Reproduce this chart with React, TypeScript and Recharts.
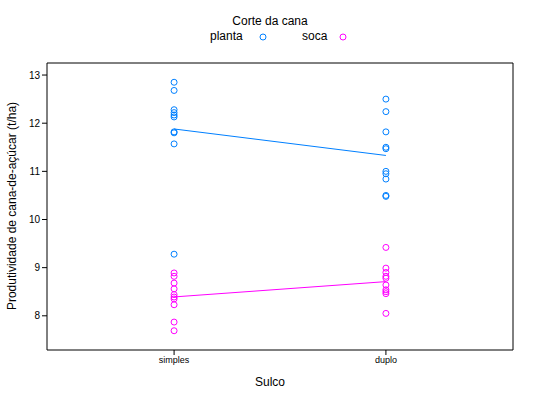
import { ComposedChart, Scatter, Line, XAxis, YAxis } from 'recharts';

const categories = ['simples', 'duplo'];
const plantaSimples = [12.85, 12.68, 12.28, 12.22, 12.17, 12.13, 11.82, 11.8, 11.57, 9.28];
const plantaDuplo = [12.5, 12.24, 11.82, 11.5, 11.47, 11.0, 10.95, 10.84, 10.5, 10.48];
const socaSimples = [8.89, 8.82, 8.68, 8.56, 8.44, 8.39, 8.35, 8.23, 7.87, 7.69];
const socaDuplo = [9.42, 8.99, 8.9, 8.82, 8.78, 8.64, 8.54, 8.5, 8.46, 8.05];
const yTicks = [8, 9, 10, 11, 12, 13];

const BLUE = '#0080ff';
const MAGENTA = '#ff00ff';
const FONT = '"Liberation Sans", Arial, sans-serif';

const mean = (a: number[]) => a.reduce((s, v) => s + v, 0) / a.length;
const toPoints = (groups: number[][]) =>
  groups.flatMap((g, i) => g.map((y) => ({ x: i + 1, y })));

const plantaPts = toPoints([plantaSimples, plantaDuplo]);
const socaPts = toPoints([socaSimples, socaDuplo]);
const plantaMean = [plantaSimples, plantaDuplo].map((g, i) => ({ x: i + 1, y: mean(g) }));
const socaMean = [socaSimples, socaDuplo].map((g, i) => ({ x: i + 1, y: mean(g) }));

const ring = (color: string) => (p: any) => (
  <circle cx={p.cx} cy={p.cy} r={3} fill="none" stroke={color} strokeWidth={1} />
);

const axisProps = { stroke: '#000', tickLine: { stroke: '#000' }, tickSize: 5 };

export default function App() {
  return (
    <div style={{ position: 'fixed', left: 0, top: 0, width: 540, height: 400, background: '#fff', fontFamily: FONT }}>
      <ComposedChart
        width={540}
        height={400}
        margin={{ top: 53, right: 17, bottom: 30, left: 7 }}
        style={{ position: 'absolute', left: 0, top: 0 }}
      >
        <XAxis
          xAxisId="b" dataKey="x" type="number" domain={[0.4, 2.6]} ticks={[1, 2]}
          tickFormatter={(v) => categories[v - 1]} height={20} {...axisProps}
          tick={{ fontSize: 9, fill: '#000', fontFamily: FONT }}
        />
        <XAxis
          xAxisId="t" orientation="top" dataKey="x" type="number" domain={[0.4, 2.6]} ticks={[1, 2]}
          tick={false} height={10} {...axisProps}
        />
        <YAxis
          yAxisId="l" type="number" domain={[7.29, 13.25]} ticks={yTicks} width={40}
          {...axisProps} tick={{ fontSize: 10, fill: '#000', fontFamily: FONT }}
        />
        <YAxis
          yAxisId="r" orientation="right" type="number" domain={[7.29, 13.25]} ticks={yTicks}
          width={10} tick={false} {...axisProps}
        />
        <Scatter xAxisId="b" yAxisId="l" data={plantaPts} dataKey="y" shape={ring(BLUE)} isAnimationActive={false} />
        <Scatter xAxisId="b" yAxisId="l" data={socaPts} dataKey="y" shape={ring(MAGENTA)} isAnimationActive={false} />
        <Line xAxisId="b" yAxisId="l" data={plantaMean} dataKey="y" stroke={BLUE} dot={false} strokeWidth={1} isAnimationActive={false} />
        <Line xAxisId="b" yAxisId="l" data={socaMean} dataKey="y" stroke={MAGENTA} dot={false} strokeWidth={1} isAnimationActive={false} />
      </ComposedChart>
      <div style={{ position: 'absolute', top: 14, left: 0, width: 540, textAlign: 'center', fontSize: 12 }}>
        Corte da cana
      </div>
      <div style={{ position: 'absolute', top: 29, left: 210, fontSize: 12 }}>planta</div>
      <svg style={{ position: 'absolute', left: 258, top: 32 }} width={10} height={10}>
        <circle cx={5} cy={5} r={3} fill="none" stroke={BLUE} />
      </svg>
      <div style={{ position: 'absolute', top: 29, left: 302, fontSize: 12 }}>soca</div>
      <svg style={{ position: 'absolute', left: 338, top: 32 }} width={10} height={10}>
        <circle cx={5} cy={5} r={3} fill="none" stroke={MAGENTA} />
      </svg>
      <div style={{ position: 'absolute', top: 375, left: 0, width: 540, textAlign: 'center', fontSize: 12 }}>
        Sulco
      </div>
      <div
        style={{
          position: 'absolute', left: 12, top: 206, fontSize: 12, whiteSpace: 'nowrap',
          transform: 'translate(-50%, -50%) rotate(-90deg)',
        }}
      >
        Produtividade de cana-de-açúcar (t/ha)
      </div>
    </div>
  );
}
